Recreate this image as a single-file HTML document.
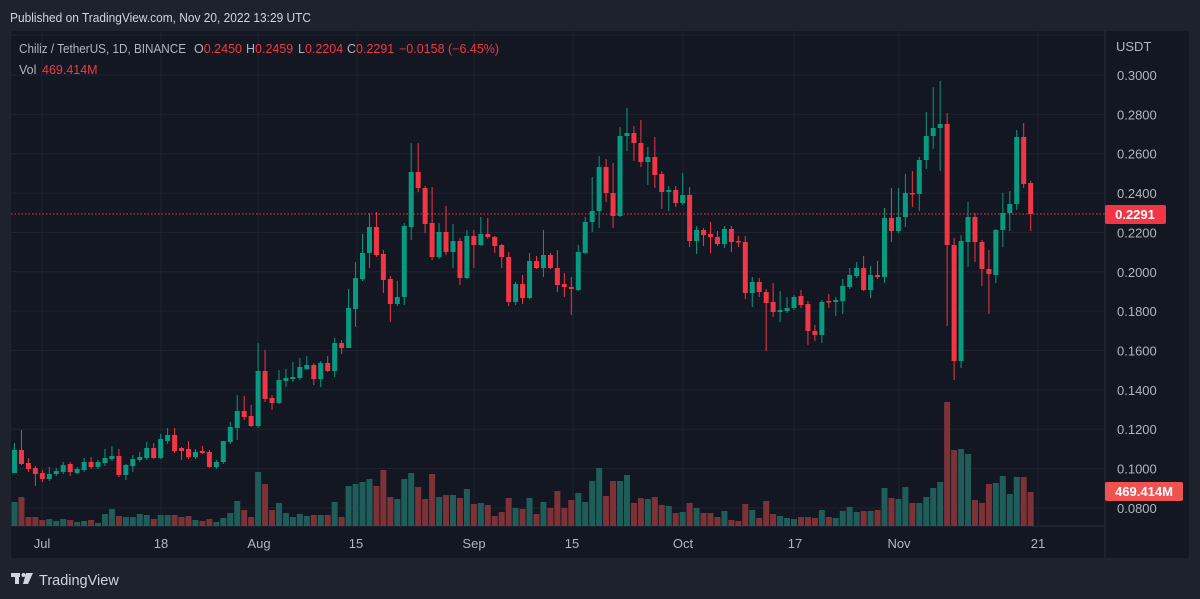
<!DOCTYPE html>
<html><head><meta charset="utf-8"><style>
html,body{margin:0;padding:0;background:#1e222d;width:1200px;height:599px;overflow:hidden;font-family:"Liberation Sans",sans-serif}
svg{position:absolute;left:0;top:0}
</style></head><body>
<svg id="s" width="1200" height="599" xmlns="http://www.w3.org/2000/svg" font-family="Liberation Sans, sans-serif">
<rect x="0" y="0" width="1200" height="599" fill="#1e222d"/>
<rect x="11" y="31" width="1178" height="527" fill="#131722"/>
<line x1="1105" y1="31" x2="1105" y2="558" stroke="#2a2e39"/>
<line x1="11" y1="526" x2="1105" y2="526" stroke="#2a2e39"/>
<g id="grid"></g>
<g id="vol"></g>
<line x1="11" y1="214" x2="1105" y2="214" stroke="#f23645" stroke-dasharray="1.5,2" stroke-width="1"/>
<g id="cnd"></g>
<text x="10" y="22" font-size="13" fill="#d1d4dc" textLength="301" lengthAdjust="spacingAndGlyphs">Published on TradingView.com, Nov 20, 2022 13:29 UTC</text>
<g font-size="12.5" fill="#b2b5be">
<text x="19" y="53" textLength="167" lengthAdjust="spacingAndGlyphs">Chiliz / TetherUS, 1D, BINANCE</text>
<text x="194" y="53">O<tspan fill="#f23645">0.2450</tspan></text>
<text x="246" y="53">H<tspan fill="#f23645">0.2459</tspan></text>
<text x="298" y="53">L<tspan fill="#f23645">0.2204</tspan></text>
<text x="347" y="53">C<tspan fill="#f23645">0.2291</tspan></text>
<text x="399" y="53" fill="#f23645">−0.0158 (−6.45%)</text>
<text x="19" y="74">Vol</text>
<text x="42" y="74" fill="#f23645">469.414M</text>
</g>
<text x="1116" y="51" font-size="13" fill="#b2b5be">USDT</text>
<g id="plab" font-size="13" fill="#b2b5be"></g>
<rect x="1105" y="205" width="61" height="19" rx="2" fill="#f23645"/>
<text x="1135" y="219" font-size="13" fill="#fff" text-anchor="middle" font-weight="bold">0.2291</text>
<rect x="1105" y="482" width="78" height="19" rx="2" fill="#ef5350"/>
<text x="1144" y="496" font-size="13" fill="#fff" text-anchor="middle" font-weight="bold">469.414M</text>
<g font-size="13" fill="#b2b5be" text-anchor="middle">
<text x="42" y="548">Jul</text><text x="161" y="548">18</text><text x="259" y="548">Aug</text><text x="356" y="548">15</text><text x="474" y="548">Sep</text><text x="572" y="548">15</text><text x="683" y="548">Oct</text><text x="795" y="548">17</text><text x="899" y="548">Nov</text><text x="1038" y="548">21</text>
</g>
<g fill="#d1d4dc">
<rect x="11" y="573" width="9" height="4"/><rect x="15" y="573" width="4" height="11"/>
<circle cx="23.5" cy="575" r="2"/>
<polygon points="26,573 33,573 28,584 23,584"/>
</g>
<text x="39" y="585" font-size="14.5" fill="#d1d4dc">TradingView</text>
</svg>
<script>
var D=[[473,450,443,473,502],[450,464,430,465,497],[463,469,458,472,517],[468,474,466,486,517],[473,479,470,482,520],[479,474,467,481,519],[474,471,468,476,521],[472,465,462,474,519],[464,472,462,476,520],[473,469,467,474,522],[470,462,458,472,521],[462,467,457,469,520],[467,462,460,469,523],[463,458,449,466,514],[459,456,446,461,509],[456,475,449,477,516],[475,465,464,480,517],[466,459,455,472,517],[460,457,452,462,514],[458,448,442,460,515],[448,458,443,459,519],[458,439,434,459,515],[441,435,428,444,515],[435,451,428,453,515],[448,451,447,460,517],[449,457,441,459,516],[457,452,449,459,520],[451,453,446,454,521],[452,467,450,468,519],[467,462,460,469,522],[462,441,441,464,518],[442,427,422,444,513],[428,411,395,440,501],[411,417,396,420,510],[416,426,405,427,517],[426,371,343,428,472],[371,399,350,402,484],[398,403,395,410,510],[403,380,370,404,503],[381,378,369,387,513],[379,377,362,382,517],[378,367,358,380,514],[369,365,356,370,516],[365,379,363,385,515],[379,363,361,387,515],[363,371,356,372,515],[371,343,338,377,502],[343,348,340,354,517],[348,308,289,348,486],[309,278,262,327,484],[279,253,234,281,482],[253,227,213,268,479],[227,255,212,257,486],[254,280,250,293,470],[279,304,276,322,497],[304,297,281,306,499],[297,226,223,305,479],[227,172,143,240,473],[172,188,143,192,487],[188,224,186,233,499],[223,257,187,260,474],[257,232,223,259,497],[232,252,206,255,495],[252,241,224,268,495],[241,278,238,285,498],[278,236,230,279,489],[236,245,230,268,504],[245,234,217,246,503],[234,237,218,239,505],[237,246,236,253,516],[245,257,244,268,512],[257,302,252,306,498],[302,284,282,305,508],[284,298,275,304,509],[298,261,253,299,498],[261,268,256,269,514],[268,255,230,277,502],[255,268,253,269,508],[268,285,250,292,491],[284,287,273,297,508],[287,289,277,315,500],[290,252,245,291,493],[253,222,217,254,502],[222,211,177,232,481],[211,167,156,228,468],[167,193,159,202,496],[193,216,163,228,481],[216,136,127,217,481],[136,133,108,151,475],[133,143,126,161,503],[143,162,120,167,498],[162,157,147,185,499],[157,175,137,188,497],[174,192,171,209,505],[192,190,186,211,506],[190,203,186,207,513],[203,195,173,205,512],[195,241,187,247,503],[241,230,226,254,508],[230,235,228,246,513],[234,237,222,253,513],[237,244,231,246,517],[244,229,226,248,511],[229,242,226,252,520],[241,242,236,247,521],[242,293,236,299,504],[293,282,277,307,510],[282,292,278,297,518],[292,303,289,351,501],[302,312,283,317,514],[312,310,291,322,516],[311,308,297,313,518],[308,297,295,310,519],[296,305,290,308,517],[304,331,301,345,517],[331,335,325,341,518],[335,302,300,343,510],[301,302,294,308,517],[302,300,297,316,518],[301,286,279,314,511],[287,275,268,289,507],[276,268,262,278,512],[268,290,256,291,511],[290,275,266,298,511],[275,277,261,279,510],[277,218,208,283,488],[218,231,188,242,498],[231,217,188,233,499],[217,193,174,227,487],[193,194,171,207,503],[194,160,157,211,503],[160,136,112,169,497],[136,128,87,149,488],[128,124,81,171,482],[124,245,113,326,402],[245,361,238,380,450],[361,241,235,368,449],[242,217,202,267,454],[217,242,213,262,500],[242,269,240,286,503],[269,274,250,314,484],[275,230,229,283,483],[230,213,193,247,476],[213,204,191,231,494],[204,137,130,210,477],[137,184,123,188,477],[183,214,181,231,492]];
var NS="http://www.w3.org/2000/svg";
function el(p,t,a){var e=document.createElementNS(NS,t);for(var k in a)e.setAttribute(k,a[k]);p.appendChild(e);return e;}
var g=document.getElementById('grid');
for(var i=0;i<12;i++){var y=75+i*39.36;el(g,'line',{x1:11,x2:1105,y1:y,y2:y,stroke:'#1f2330'});
 var t=el(document.getElementById('plab'),'text',{x:1117,y:y+5});t.textContent=(0.3-i*0.02).toFixed(4);}
el(g,'line',{x1:11,x2:1105,y1:35,y2:35,stroke:'#1f2330'});
[42,161,258,357,474,573,683,794,899,1038].forEach(function(x){el(g,'line',{x1:x,x2:x,y1:31,y2:526,stroke:'#1f2330'});});
var cg=document.getElementById('cnd'),vg=document.getElementById('vol');
D.forEach(function(d,i){var x=14.5+i*6.96;var up=d[1]<d[0];
 var c=up?'#089981':'#f23645';
 el(vg,'rect',{x:x-3,y:d[4],width:6,height:526-d[4],fill:up?'#1e5d5a':'#7d3237'});
 el(cg,'line',{x1:x,x2:x,y1:d[2],y2:d[3],stroke:c,'stroke-width':1});
 var t=Math.min(d[0],d[1]),b=Math.max(d[0],d[1]);
 el(cg,'rect',{x:x-2.5,y:t,width:5,height:Math.max(1.5,b-t),fill:c});
});
</script>
</body></html>
